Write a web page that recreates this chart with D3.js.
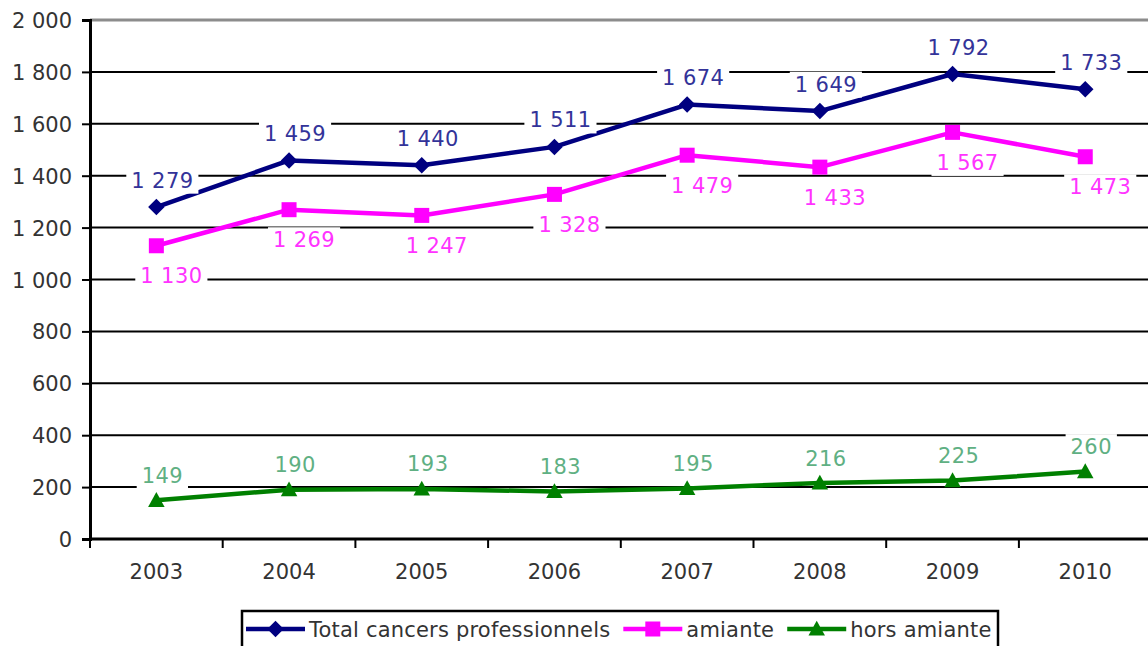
<!DOCTYPE html>
<html>
<head>
<meta charset="utf-8">
<script src="https://cdn.jsdelivr.net/npm/d3@7"></script>
<style>
  html, body { margin: 0; padding: 0; background: #fff; }
  svg { display: block; }
  text { font-family: "DejaVu Sans", Verdana, sans-serif; }
</style>
</head>
<body>
<svg id="chart" width="1148" height="646"></svg>
<script>
// Cancers professionnels reconnus, 2003-2010
const years = ["2003", "2004", "2005", "2006", "2007", "2008", "2009", "2010"];
const totalCancers = [1279, 1459, 1440, 1511, 1674, 1649, 1792, 1733];
const amiante = [1130, 1269, 1247, 1328, 1479, 1433, 1567, 1473];
const horsAmiante = [149, 190, 193, 183, 195, 216, 225, 260];
const yTicks = [0, 200, 400, 600, 800, 1000, 1200, 1400, 1600, 1800, 2000];

const series = [
  { name: "Total cancers professionnels", values: totalCancers, color: "#000080", labelColor: "#333399", marker: "diamond", dx: 6, dy: -27 },
  { name: "amiante", values: amiante, color: "#ff00ff", labelColor: "#ff33ff", marker: "square", dx: 15, dy: 30 },
  { name: "hors amiante", values: horsAmiante, color: "#008000", labelColor: "#5fb083", marker: "triangle", dx: 6, dy: -25 }
];

const fmt = v => d3.format(",")(v).replace(/,/g, " ");

const svg = d3.select("#chart");
const plotLeft = 90, plotTop = 20, plotBottom = 539;
const bandW = 132.7;
const x = d3.scaleBand().domain(years).range([plotLeft, plotLeft + bandW * years.length]).padding(0);
const cx = d => x(d) + x.bandwidth() / 2;
const y = d3.scaleLinear().domain([0, 2000]).range([plotBottom, plotTop]);

// Horizontal gridlines
svg.append("g").selectAll("line").data(yTicks.filter(t => t > 0)).join("line")
  .attr("x1", plotLeft).attr("x2", x.range()[1])
  .attr("y1", d => y(d)).attr("y2", d => y(d))
  .attr("stroke", d => d === 2000 ? "#8c8c8c" : "#000")
  .attr("stroke-width", d => d === 2000 ? 3 : 2);

// Y axis
const yAxis = svg.append("g").attr("transform", `translate(${plotLeft},0)`)
  .call(d3.axisLeft(y).tickValues(yTicks).tickSize(8).tickPadding(10).tickFormat(fmt));
yAxis.select(".domain").attr("stroke", "#000").attr("stroke-width", 3);
yAxis.selectAll(".tick line").attr("stroke", "#000").attr("stroke-width", 2);
yAxis.selectAll(".tick text").attr("font-size", 21).attr("fill", "#333")
  .attr("font-family", "DejaVu Sans, sans-serif").attr("dy", "0.36em");

// X axis with ticks on category boundaries
const xAxis = svg.append("g").attr("transform", `translate(0,${plotBottom})`);
xAxis.append("line").attr("x1", plotLeft).attr("x2", x.range()[1]).attr("y1", 0).attr("y2", 0)
  .attr("stroke", "#000").attr("stroke-width", 3);
xAxis.selectAll("line.tick").data(years.map(d => x(d)).concat([x.range()[1]])).join("line")
  .attr("class", "tick")
  .attr("x1", d => d).attr("x2", d => d).attr("y1", 0).attr("y2", 9)
  .attr("stroke", "#000").attr("stroke-width", 2);
xAxis.selectAll("text").data(years).join("text")
  .attr("x", d => cx(d)).attr("y", 40)
  .attr("text-anchor", "middle").attr("font-size", 21).attr("fill", "#333")
  .text(d => d);

// Marker shapes
function marker(sel, type, color, size) {
  if (type === "diamond") {
    const s = size * 0.55;
    sel.append("path").attr("d", `M0,${-s}L${s},0L0,${s}L${-s},0Z`).attr("fill", color);
  } else if (type === "square") {
    const s = size * 0.5;
    sel.append("rect").attr("x", -s).attr("y", -s).attr("width", 2 * s).attr("height", 2 * s).attr("fill", color);
  } else {
    const s = size * 0.55;
    sel.append("path").attr("d", `M0,${-s}L${s},${s * 0.8}L${-s},${s * 0.8}Z`).attr("fill", color);
  }
}

const line = d3.line().x((d, i) => cx(years[i])).y(d => y(d));

// Lines and markers
series.forEach(s => {
  svg.append("path").datum(s.values)
    .attr("d", line).attr("fill", "none")
    .attr("stroke", s.color).attr("stroke-width", 4.5).attr("stroke-linejoin", "round");
  svg.append("g").selectAll("g").data(s.values).join("g")
    .attr("transform", (d, i) => `translate(${cx(years[i])},${y(d)})`)
    .each(function () { marker(d3.select(this), s.marker, s.color, 15); });
});

// Value labels on white boxes
series.forEach(s => {
  const g = svg.append("g");
  s.values.forEach((v, i) => {
    const lg = g.append("g").attr("transform", `translate(${cx(years[i]) + s.dx},${y(v) + s.dy})`);
    const t = lg.append("text").attr("text-anchor", "middle").attr("dy", "0.36em")
      .attr("font-size", 21).attr("letter-spacing", 0.4).attr("fill", s.labelColor).text(fmt(v));
    const b = t.node().getBBox();
    lg.insert("rect", "text").attr("x", b.x - 5).attr("y", b.y - 1)
      .attr("width", b.width + 10).attr("height", b.height + 2).attr("fill", "#fff");
  });
});

// Legend
const legend = svg.append("g");
legend.append("rect").attr("x", 242).attr("y", 611).attr("width", 756).attr("height", 44)
  .attr("fill", "#fff").attr("stroke", "#000").attr("stroke-width", 2.5);
let lx = 246;
const ly = 629;
series.forEach(s => {
  legend.append("line").attr("x1", lx).attr("x2", lx + 59).attr("y1", ly).attr("y2", ly)
    .attr("stroke", s.color).attr("stroke-width", 4.5);
  const m = legend.append("g").attr("transform", `translate(${lx + 29.5},${ly})`);
  marker(m, s.marker, s.color, 15);
  const t = legend.append("text").attr("x", lx + 63).attr("y", ly).attr("dy", "0.36em")
    .attr("font-size", 21).attr("letter-spacing", 0.2).attr("fill", "#333").text(s.name);
  lx = lx + 63 + t.node().getComputedTextLength() + 13;
});
</script>
</body>
</html>
